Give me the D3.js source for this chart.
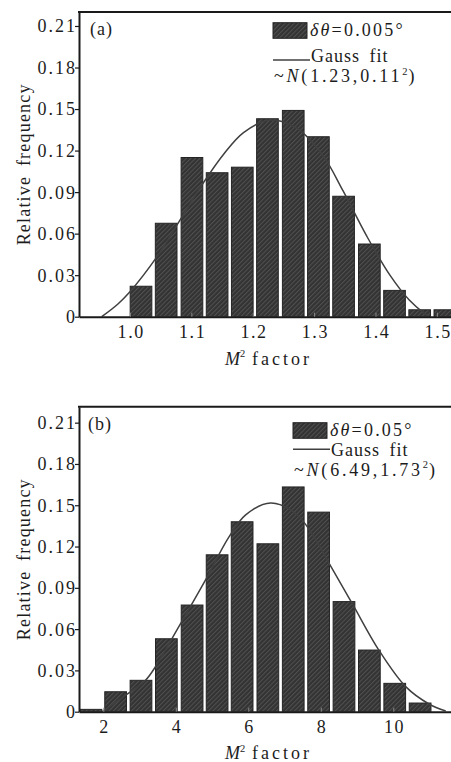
<!DOCTYPE html>
<html>
<head>
<meta charset="utf-8">
<script src="https://cdn.jsdelivr.net/npm/d3@7"></script>
<style>
  body { margin: 0; background: #fff; }
  svg { display: block; }
  text { font-family: "Liberation Serif", "Times New Roman", serif; fill: #1c1c1c; }
</style>
</head>
<body>
<svg id="chart" width="451" height="762"></svg>
<script>
// ---- Panel (a): delta-theta = 0.005 deg ----
const aBinCenters = [1.018, 1.059, 1.101, 1.142, 1.183, 1.224, 1.266, 1.307, 1.348, 1.390, 1.431, 1.472, 1.513];
const aFrequency  = [0.022, 0.0675, 0.115, 0.104, 0.108, 0.143, 0.149, 0.130, 0.087, 0.0525, 0.019, 0.005, 0.005];
const aFitX = [0.954, 0.980, 1.000, 1.0435, 1.079, 1.114, 1.152, 1.185, 1.228, 1.272, 1.315, 1.347, 1.386, 1.4235, 1.455, 1.478, 1.489];
const aFitY = [0.000, 0.009, 0.018, 0.043, 0.068, 0.093, 0.117, 0.133, 0.142, 0.136, 0.116, 0.091, 0.058, 0.030, 0.012, 0.003, 0.000];
const aXTicks = [1.0, 1.1, 1.2, 1.3, 1.4, 1.5];

// ---- Panel (b): delta-theta = 0.05 deg ----
const bBinCenters = [1.66, 2.34, 3.04, 3.74, 4.45, 5.14, 5.83, 6.54, 7.24, 7.94, 8.64, 9.34, 10.04, 10.74];
const bFrequency  = [0.0017, 0.0145, 0.0228, 0.053, 0.0775, 0.114, 0.138, 0.122, 0.1633, 0.145, 0.080, 0.0448, 0.0206, 0.0063];
const bFitX = [1.97, 2.30, 2.618, 3.17, 3.446, 4.088, 4.825, 5.468, 5.928, 6.618, 7.308, 7.766, 8.226, 8.869, 9.605, 10.342, 10.985, 11.446];
const bFitY = [0.000, 0.006, 0.012, 0.023, 0.033, 0.062, 0.096, 0.127, 0.143, 0.1516, 0.144, 0.129, 0.108, 0.0785, 0.0446, 0.0182, 0.0056, 0.0005];
const bXTicks = [2, 4, 6, 8, 10];

// ---- Shared ----
const yTicks = [0, 0.03, 0.06, 0.09, 0.12, 0.15, 0.18, 0.21];
const yTitle = "Relative frequency";

const svg = d3.select("#chart");
const defs = svg.append("defs");

// diagonal hatch used by the bars and the legend swatch
const hatch = defs.append("pattern")
  .attr("id", "hatch")
  .attr("patternUnits", "userSpaceOnUse")
  .attr("width", 3.2).attr("height", 3.2)
  .attr("patternTransform", "rotate(45)");
hatch.append("rect").attr("width", 3.2).attr("height", 3.2).attr("fill", "#333");
hatch.append("line").attr("x1", 0.5).attr("y1", 0).attr("x2", 0.5).attr("y2", 3.2)
  .attr("stroke", "#515151").attr("stroke-width", 1);

function drawPanel(p) {
  const x = d3.scaleLinear().domain(p.xDomain).range([p.left, p.right]);
  const y = d3.scaleLinear().domain(p.yDomain).range([p.bottom, p.top]);
  const g = svg.append("g");

  const clipId = "clip-" + p.id;
  defs.append("clipPath").attr("id", clipId)
    .append("rect").attr("x", p.left).attr("y", p.top)
    .attr("width", p.right - p.left).attr("height", p.bottom - p.top);

  const plot = g.append("g").attr("clip-path", `url(#${clipId})`);

  // histogram bars
  const bw = x(p.xDomain[0] + p.barWidth) - x(p.xDomain[0]);
  plot.selectAll("rect.bar")
    .data(p.centers.map((c, i) => ({ c, f: p.freq[i] })))
    .join("rect")
    .attr("class", "bar")
    .attr("x", d => x(d.c) - bw / 2)
    .attr("width", bw)
    .attr("y", d => y(d.f))
    .attr("height", d => y(0) - y(d.f))
    .attr("fill", "url(#hatch)")
    .attr("stroke", "#242424")
    .attr("stroke-width", 1);

  // Gauss fit curve
  const line = d3.line()
    .x(d => x(d[0])).y(d => y(d[1]))
    .curve(d3.curveCatmullRom.alpha(0.5));
  plot.append("path")
    .datum(p.fitX.map((v, i) => [v, p.fitY[i]]))
    .attr("d", line)
    .attr("fill", "none")
    .attr("stroke", "#404040")
    .attr("stroke-width", 1.5);

  // left axis, outward ticks
  const yAxis = g.append("g")
    .attr("transform", `translate(${p.left},0)`)
    .call(d3.axisLeft(y).tickValues(yTicks).tickSizeInner(4).tickSizeOuter(0).tickPadding(2)
      .tickFormat(d => d === 0 ? "0" : d3.format(".2f")(d)));
  yAxis.select(".domain").attr("stroke", "#1a1a1a").attr("stroke-width", 2);
  yAxis.selectAll(".tick line").attr("stroke", "#1a1a1a").attr("stroke-width", 1.2);
  yAxis.selectAll(".tick text")
    .attr("font-size", 18).attr("letter-spacing", 2)
    .attr("font-family", "Liberation Serif").attr("fill", "#1c1c1c")
    .attr("x", -4 + 2).attr("dy", "0.33em");

  // bottom axis, inward ticks
  const xAxis = g.append("g")
    .attr("transform", `translate(0,${p.bottom})`)
    .call(d3.axisBottom(x).tickValues(p.xTicks).tickSizeInner(-4).tickSizeOuter(0).tickPadding(8.5)
      .tickFormat(p.xFormat));
  xAxis.select(".domain").attr("stroke", "#1a1a1a").attr("stroke-width", 2);
  xAxis.selectAll(".tick line").attr("stroke", "#8a8a8a").attr("stroke-width", 1);
  xAxis.selectAll(".tick text")
    .attr("font-size", 18).attr("letter-spacing", 1.6)
    .attr("font-family", "Liberation Serif").attr("fill", "#1c1c1c")
    .attr("dx", 0.8);

  // top frame line
  g.append("line")
    .attr("x1", p.left - 1).attr("x2", p.right)
    .attr("y1", p.top).attr("y2", p.top)
    .attr("stroke", "#1a1a1a").attr("stroke-width", 2);

  // panel tag
  g.append("text").attr("x", p.tagX).attr("y", p.tagY)
    .attr("font-size", 18).attr("letter-spacing", 1).text(p.tag);

  // y title
  g.append("text")
    .attr("transform", `translate(30,${(p.top + p.bottom) / 2}) rotate(-90)`)
    .attr("text-anchor", "middle")
    .attr("font-size", 18).attr("letter-spacing", 1.2).attr("word-spacing", 4)
    .text(yTitle);

  // x title: M^2 factor
  const xt = g.append("text")
    .attr("x", 225).attr("y", p.xTitleY)
    .attr("font-size", 18);
  xt.append("tspan").attr("font-style", "italic").text("M");
  xt.append("tspan").attr("font-size", 10.5).attr("dy", -7.5).text("2");
  xt.append("tspan").attr("x", 252).attr("dy", 7.5).attr("letter-spacing", 3).text("factor");

  // legend
  const L = p.legend;
  g.append("rect")
    .attr("x", L.x).attr("y", L.swTop).attr("width", 34).attr("height", 15.6)
    .attr("fill", "url(#hatch)").attr("stroke", "#242424").attr("stroke-width", 1);
  const t1 = g.append("text").attr("x", L.x + 37).attr("y", L.row1)
    .attr("font-size", 18).attr("letter-spacing", 2.2);
  t1.append("tspan").attr("font-style", "italic").text("δθ");
  t1.append("tspan").text(L.label);

  g.append("line")
    .attr("x1", L.x).attr("x2", L.x + 37)
    .attr("y1", L.lineY).attr("y2", L.lineY)
    .attr("stroke", "#404040").attr("stroke-width", 1.5);
  g.append("text").attr("x", L.x + 38).attr("y", L.row2)
    .attr("font-size", 18).attr("letter-spacing", 1).attr("word-spacing", 4)
    .text("Gauss fit");

  const t3 = g.append("text").attr("x", L.x + 1).attr("y", L.row3)
    .attr("font-size", 18).attr("letter-spacing", 2.8);
  t3.append("tspan").text("~");
  t3.append("tspan").attr("font-style", "italic").text("N");
  t3.append("tspan").text(L.fitMain);
  t3.append("tspan").attr("font-size", 10.5).attr("dy", -7.5).attr("letter-spacing", 1).text("2");
  t3.append("tspan").attr("dy", 7.5).text(")");
}

drawPanel({
  id: "a", tag: "(a)", tagX: 90, tagY: 35,
  left: 79, right: 451, top: 12, bottom: 316.7,
  xDomain: [0.917, 1.523], yDomain: [0, 0.2201],
  centers: aBinCenters, freq: aFrequency, barWidth: 0.0353,
  fitX: aFitX, fitY: aFitY,
  xTicks: aXTicks, xFormat: d3.format(".1f"),
  xTitleY: 364.5,
  legend: { x: 273, swTop: 22.7, row1: 36, lineY: 60, row2: 62, row3: 82,
            label: "=0.005°", fitMain: "(1.23,0.11" }
});

drawPanel({
  id: "b", tag: "(b)", tagX: 88, tagY: 430,
  left: 79, right: 451, top: 406.7, bottom: 711.7,
  xDomain: [1.330, 11.592], yDomain: [0, 0.2216],
  centers: bBinCenters, freq: bFrequency, barWidth: 0.599,
  fitX: bFitX, fitY: bFitY,
  xTicks: bXTicks, xFormat: d3.format("d"),
  xTitleY: 759,
  legend: { x: 293, swTop: 422.7, row1: 436, lineY: 449.3, row2: 455.5, row3: 475.5,
            label: "=0.05°", fitMain: "(6.49,1.73" }
});
</script>
</body>
</html>
